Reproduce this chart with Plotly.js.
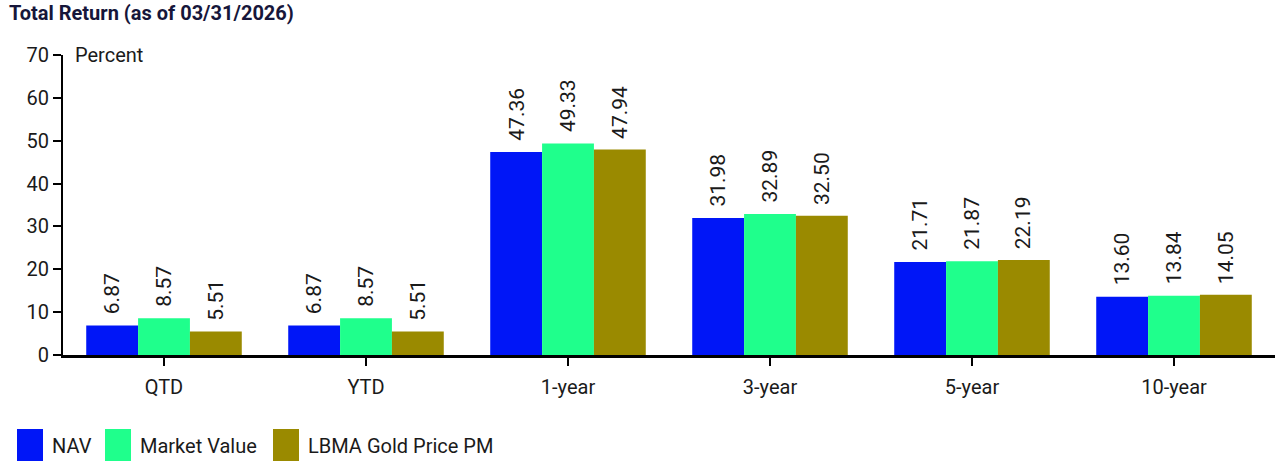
<!DOCTYPE html>
<html>
<head>
<meta charset="utf-8">
<script src="https://cdn.plot.ly/plotly-3.0.1.min.js"></script>
<style>html,body{margin:0;padding:0;background:#fff;}#chart{width:1278px;height:462px;}</style>
</head>
<body>
<div id="chart"></div>
<script>
const categories = ["QTD", "YTD", "1-year", "3-year", "5-year", "10-year"];
const seriesNames = ["NAV", "Market Value", "LBMA Gold Price PM"];
const navValues = [6.87, 6.87, 47.36, 31.98, 21.71, 13.60];
const marketValues = [8.57, 8.57, 49.33, 32.89, 21.87, 13.84];
const goldValues = [5.51, 5.51, 47.94, 32.50, 22.19, 14.05];
const yTicks = [0, 10, 20, 30, 40, 50, 60, 70];
const colors = ["#0016f7", "#1fff8c", "#9a8a00"];

const allSeries = [navValues, marketValues, goldValues];
const bargap = 0.23;
const FONT = "Roboto, 'Open Sans', sans-serif";
const TXT = "#1a1a1a";

const traces = allSeries.map((vals, i) => ({
  type: "bar",
  name: seriesNames[i],
  x: categories.map((c, j) => j),
  y: vals,
  marker: {color: colors[i], line: {width: 0}},
  showlegend: false,
  hoverinfo: "skip"
}));

const annotations = [];
const w = (1 - bargap) / 3;
allSeries.forEach((vals, i) => {
  vals.forEach((v, j) => {
    annotations.push({
      x: j + (i - 1) * w, y: v, xref: "x", yref: "y",
      text: v.toFixed(2), showarrow: false, textangle: -90,
      xanchor: "center", yanchor: "bottom", yshift: 9,
      font: {family: FONT, size: 21, color: TXT}
    });
  });
});
annotations.push({
  xref: "paper", yref: "paper", x: 0, y: 1, xshift: 10,
  xanchor: "left", yanchor: "middle", text: "Percent", showarrow: false,
  font: {family: FONT, size: 20, color: TXT}
});

// custom legend
const shapes = [];
const legX = [17, 105, 273];
const legTextX = [52, 140, 308];
const plotW = 1278 - 63 - 3;
seriesNames.forEach((n, i) => {
  shapes.push({
    type: "rect", xref: "paper", yref: "paper",
    x0: (legX[i] - 63) / plotW, x1: (legX[i] + 26 - 63) / plotW,
    y0: -(461 - 355) / 300, y1: -(429 - 355) / 300,
    fillcolor: colors[i], line: {width: 0}
  });
  annotations.push({
    xref: "paper", yref: "paper",
    x: (legTextX[i] - 63) / plotW, y: -(446 - 355) / 300, xshift: -2,
    xanchor: "left", yanchor: "middle", text: n, showarrow: false,
    font: {family: FONT, size: 20, color: TXT}
  });
});

const layout = {
  width: 1278, height: 462,
  margin: {l: 63, r: 3, t: 55, b: 107},
  paper_bgcolor: "#fff", plot_bgcolor: "#fff",
  barmode: "group", bargap: bargap, bargroupgap: 0,
  title: {
    text: "<b>Total Return (as of 03/31/2026)</b>",
    x: 0, xref: "container", xanchor: "left", y: 1, yref: "container", yanchor: "top",
    pad: {t: 6, l: 9},
    font: {family: FONT, size: 20, color: "#16163a"}
  },
  xaxis: {
    tickmode: "array", tickvals: categories.map((c, j) => j), ticktext: categories,
    range: [-0.5, categories.length - 0.5],
    showline: true, linecolor: "#000", linewidth: 2.5,
    ticks: "outside", ticklen: 8, tickwidth: 2, tickcolor: "#000",
    ticklabelstandoff: 4,
    showgrid: false, zeroline: false,
    tickfont: {family: FONT, size: 20, color: TXT}
  },
  yaxis: {
    range: [0, 70], tickmode: "array", tickvals: yTicks,
    showline: true, linecolor: "#000", linewidth: 2,
    ticks: "outside", ticklen: 8, tickwidth: 2, tickcolor: "#000",
    showgrid: false, zeroline: false,
    tickfont: {family: FONT, size: 20, color: TXT}
  },
  annotations: annotations,
  shapes: shapes
};

Plotly.newPlot("chart", traces, layout, {displayModeBar: false, staticPlot: true});
</script>
</body>
</html>
